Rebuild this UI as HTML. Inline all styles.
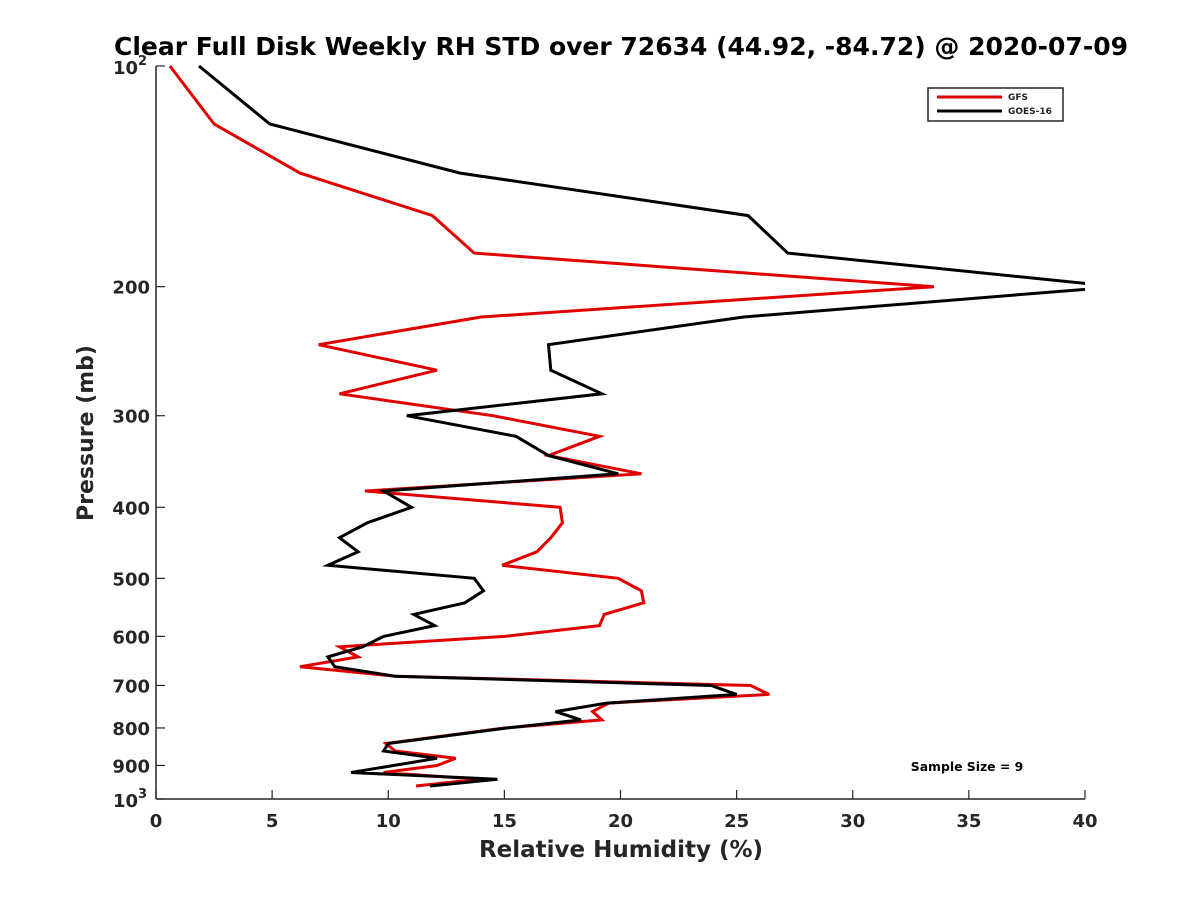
<!DOCTYPE html>
<html><head><meta charset="utf-8"><style>
body{margin:0;background:#fff;}
svg text{font-family:"DejaVu Sans","Liberation Sans",sans-serif;font-weight:bold;fill:#262626;}
</style></head><body>
<svg id="chart" width="1200" height="900" xmlns="http://www.w3.org/2000/svg">
<rect width="1200" height="900" fill="#fff"/>
<text x="621" y="55" font-size="25" text-anchor="middle" style="fill:#000">Clear Full Disk Weekly RH STD over 72634 (44.92, -84.72) @ 2020-07-09</text>
<g id="axes"></g>
<g id="series"></g>
<text x="621" y="857" font-size="23" text-anchor="middle">Relative Humidity (%)</text>
<text transform="translate(93,433) rotate(-90)" font-size="22" text-anchor="middle">Pressure (mb)</text>
<g>
<rect x="928" y="88" width="135" height="33" fill="#fff" stroke="#262626" stroke-width="1.5"/>
<line x1="937" y1="97" x2="1002" y2="97" stroke="#e00000" stroke-width="3"/>
<text x="1008" y="100" font-size="9">GFS</text>
<line x1="937" y1="111" x2="1002" y2="111" stroke="#000" stroke-width="3"/>
<text x="1008" y="114" font-size="9">GOES-16</text>
</g>
<text x="967" y="771" font-size="12.4" text-anchor="middle" style="fill:#000">Sample Size = 9</text>
</svg>
<script>
const xTicks=[0,5,10,15,20,25,30,35,40];
const yTicks=[100,200,300,400,500,600,700,800,900,1000];
const gfsP=[100,120,140,160,180,200,220,240,260,280,300,320,340,360,380,400,420,440,460,480,500,520,540,560,580,600,620,640,660,680,700,720,740,760,780,800,840,860,880,900,920,940,960];
const gfsRH=[0.6,2.5,6.2,11.9,13.7,33.5,14.0,7.0,12.1,7.9,14.5,19.1,16.9,20.9,9.0,17.4,17.5,17.0,16.4,14.9,19.9,20.9,21.0,19.3,19.1,15.0,7.9,8.7,6.2,10.3,25.6,26.4,19.5,18.8,19.2,15.0,9.9,10.3,12.9,12.1,9.8,13.9,11.2];
const goesP=[100,120,140,160,180,200,220,240,260,280,300,320,340,360,380,400,420,440,460,480,500,520,540,560,580,600,620,640,660,680,700,720,740,760,780,800,840,860,880,920,940,960];
const goesRH=[1.85,4.9,13.1,25.5,27.2,41.4,25.3,16.9,17.0,19.2,10.8,15.5,16.9,19.9,9.8,11.0,9.1,7.9,8.7,7.4,13.7,14.1,13.3,11.1,12.0,9.8,8.9,7.4,7.7,10.3,23.9,25.0,19.4,17.2,18.3,15.1,10.0,9.8,12.1,8.4,14.7,11.8];
const NS='http://www.w3.org/2000/svg';
const X0=156,X1=1085,Y0=66,Y1=799,xMax=40;
const sx=v=>X0+(v/xMax)*(X1-X0);
const sy=p=>Y0+(Math.log10(p)-2)*(Y1-Y0);
function mk(tag,attrs,parent){const e=document.createElementNS(NS,tag);for(const k in attrs)e.setAttribute(k,attrs[k]);parent.appendChild(e);return e;}
const ax=document.getElementById('axes');
const l1=mk('line',{x1:X0,y1:Y0,x2:X0,y2:Y1,stroke:'#262626','stroke-width':1.5},ax);


const l2=mk('line',{x1:X0,y1:Y1,x2:X1,y2:Y1,stroke:'#262626','stroke-width':1.5},ax);


xTicks.forEach(t=>{
  const x=sx(t);
  mk('line',{x1:x,y1:Y1,x2:x,y2:Y1-9,stroke:'#262626','stroke-width':1.2},ax);
  const tx=mk('text',{x:x,y:Y1+28,'font-size':18,'text-anchor':'middle'},ax);
  tx.textContent=String(t);
  
  
});
yTicks.forEach(t=>{
  const y=sy(t);
  mk('line',{x1:X0,y1:y,x2:X0+9,y2:y,stroke:'#262626','stroke-width':1.2},ax);
  const tx=mk('text',{x:X0-6,y:y+7,'font-size':18,'text-anchor':'end'},ax);
  
  
  if(t===100||t===1000){
    tx.setAttribute('x',X0-18);
    tx.setAttribute('y',y+8);
    tx.textContent='10';
    const s=mk('text',{x:X0-18,y:y-1,'font-size':13,'text-anchor':'start'},ax);
    s.textContent=t===100?'2':'3';
  } else tx.textContent=String(t);
});
const cp=mk('clipPath',{id:'clip'},document.getElementById('chart'));
mk('rect',{x:X0,y:Y0-2,width:X1-X0,height:Y1-Y0+4},cp);
const sg=document.getElementById('series');
sg.setAttribute('clip-path','url(#clip)');
function draw(P,R,color,name){
  const pts=P.map((p,i)=>sx(R[i]).toFixed(1)+','+sy(p).toFixed(1)).join(' ');
  const pl=mk('polyline',{points:pts,fill:'none',stroke:color,'stroke-width':3,'stroke-linejoin':'miter'},sg);
  
  
}
draw(gfsP,gfsRH,'#e00000','gfs-line');
draw(goesP,goesRH,'#000','goes16-line');
</script>
</body></html>
